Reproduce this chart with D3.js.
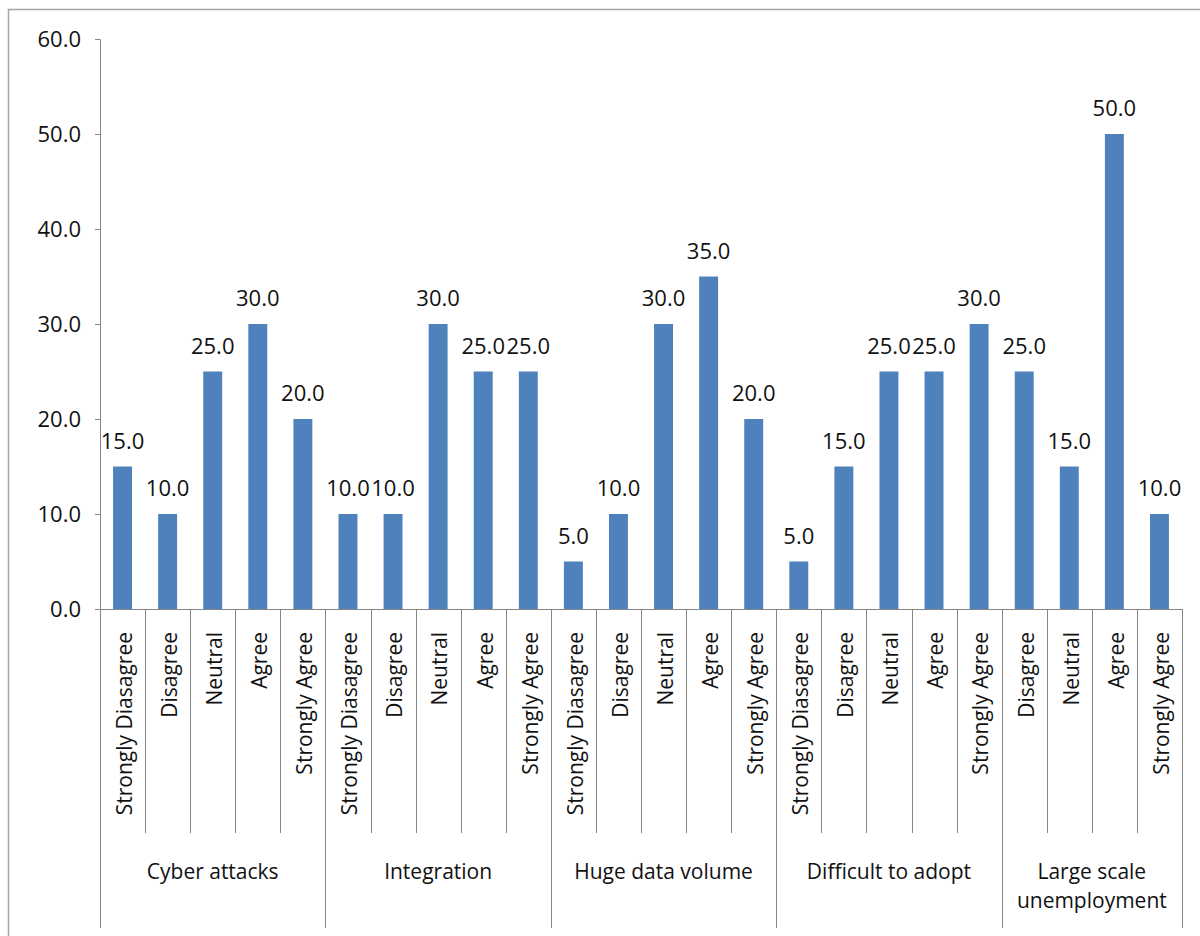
<!DOCTYPE html>
<html>
<head>
<meta charset="utf-8">
<script src="https://cdn.jsdelivr.net/npm/d3@7"></script>
<style>
	body { margin: 0; background: #fff; }
	text { font-family: "Open Sans", sans-serif; fill: #111; }
</style>
</head>
<body>
<script>
var groups = ["Cyber attacks", "Integration", "Huge data volume", "Difficult to adopt", "Large scale unemployment"];
var responses = [
	["Strongly Diasagree", "Disagree", "Neutral", "Agree", "Strongly Agree"],
	["Strongly Diasagree", "Disagree", "Neutral", "Agree", "Strongly Agree"],
	["Strongly Diasagree", "Disagree", "Neutral", "Agree", "Strongly Agree"],
	["Strongly Diasagree", "Disagree", "Neutral", "Agree", "Strongly Agree"],
	["Disagree", "Neutral", "Agree", "Strongly Agree"]
];
var values = [
	[15, 10, 25, 30, 20],
	[10, 10, 30, 25, 25],
	[5, 10, 30, 35, 20],
	[5, 15, 25, 25, 30],
	[25, 15, 50, 10]
];
var yTicks = [0, 10, 20, 30, 40, 50, 60];

(function(){
	var bars = [],
		groupSpans = [],
		gi, ri;

	for (gi = 0; gi < groups.length; gi++) {
		groupSpans.push({name: groups[gi], start: bars.length, count: responses[gi].length});
		for (ri = 0; ri < responses[gi].length; ri++) {
			bars.push({group: groups[gi], label: responses[gi][ri], value: values[gi][ri], i: bars.length});
		}
	}

	var left = 100, right = 1182, top = 39, base = 609;
	var axisColor = "#868686";

	var svg = d3.select("body").append("svg")
		.attr("width", 1200)
		.attr("height", 936);

	svg.append("rect")
		.attr("x", 8.5)
		.attr("y", 9.5)
		.attr("width", 1220)
		.attr("height", 960)
		.style("fill", "none")
		.style("stroke", "#a6a6a6")
		.style("stroke-width", 1.5);

	var x = d3.scaleBand()
		.domain(bars.map(function(d) {return d.i;}))
		.range([left, right])
		.paddingInner(0.58)
		.paddingOuter(0.29);
	var step = x.step();

	var y = d3.scaleLinear()
		.domain([0, 60])
		.range([base, top]);

	// y axis
	var yAxis = svg.append("g")
		.attr("transform", "translate(" + left + ",0)")
		.call(d3.axisLeft(y).tickValues(yTicks).tickFormat(d3.format(".1f")).tickSize(5).tickPadding(14));
	yAxis.select(".domain").style("stroke", axisColor);
	yAxis.selectAll(".tick line").style("stroke", axisColor);
	yAxis.selectAll(".tick text")
		.style("font-size", "22px")
		.style("font-family", "'Open Sans', sans-serif")
		.style("fill", "#111");

	// bars
	svg.selectAll("rect.bar").data(bars)
		.enter().append("rect")
		.classed("bar", true)
		.attr("x", function(d) {return x(d.i);})
		.attr("y", function(d) {return y(d.value);})
		.attr("width", x.bandwidth())
		.attr("height", function(d) {return base - y(d.value);})
		.style("fill", "#4f81bd");

	// value labels
	svg.selectAll("text.value").data(bars)
		.enter().append("text")
		.classed("value", true)
		.attr("x", function(d) {return x(d.i) + x.bandwidth() / 2;})
		.attr("y", function(d) {return y(d.value) - 18;})
		.attr("text-anchor", "middle")
		.style("font-size", "22px")
		.text(function(d) {return d3.format(".1f")(d.value);});

	// x axis baseline
	svg.append("line")
		.attr("x1", left).attr("x2", right)
		.attr("y1", base + 0.5).attr("y2", base + 0.5)
		.style("stroke", axisColor);

	// separators between bars (short) and groups (long)
	var groupEdges = groupSpans.map(function(g) {return g.start;}).concat([bars.length]);
	d3.range(bars.length + 1).forEach(function(k) {
		var xx = Math.round(left + k * step) + 0.5;
		var isGroup = groupEdges.indexOf(k) >= 0;
		svg.append("line")
			.attr("x1", xx).attr("x2", xx)
			.attr("y1", base).attr("y2", isGroup ? 928 : 833)
			.style("stroke", axisColor);
	});

	// rotated response labels
	svg.selectAll("text.resp").data(bars)
		.enter().append("text")
		.classed("resp", true)
		.attr("transform", function(d) {
			return "translate(" + (x(d.i) + x.bandwidth() / 2 + 2) + ",632) rotate(-90)";
		})
		.attr("dy", "0.35em")
		.attr("text-anchor", "end")
		.style("font-size", "21px")
		.text(function(d) {return d.label;});

	// group labels, wrapped to the group width
	svg.selectAll("text.group").data(groupSpans)
		.enter().append("text")
		.classed("group", true)
		.attr("text-anchor", "middle")
		.style("font-size", "21px")
		.each(function(g) {
			var cx = left + (g.start + g.count / 2) * step,
				maxW = g.count * step - 20,
				el = d3.select(this),
				words = g.name.split(" "),
				lines = [],
				line = [],
				tspan = el.append("tspan").attr("x", cx);
			words.forEach(function(w) {
				line.push(w);
				tspan.text(line.join(" "));
				if (tspan.node().getComputedTextLength() > maxW && line.length > 1) {
					line.pop();
					lines.push(line.join(" "));
					line = [w];
				}
			});
			lines.push(line.join(" "));
			tspan.remove();
			lines.forEach(function(t, k) {
				el.append("tspan")
					.attr("x", cx)
					.attr("y", 879 + k * 29)
					.text(t);
			});
		});
}());
</script>
</body>
</html>
